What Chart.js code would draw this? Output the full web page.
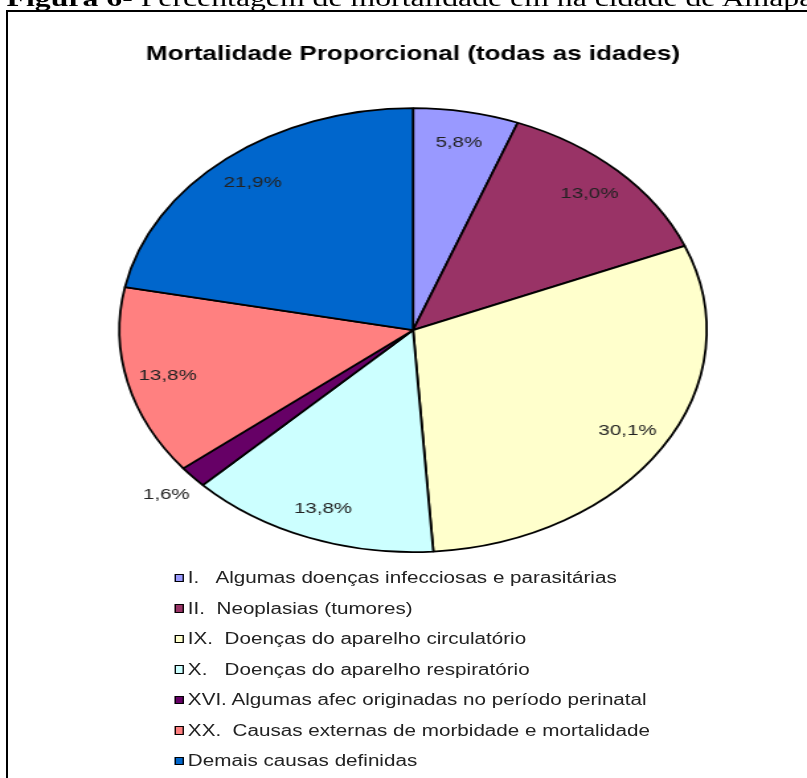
<!DOCTYPE html>
<html>
<head>
<meta charset="utf-8">
<title>Mortalidade Proporcional</title>
<script src="https://cdn.jsdelivr.net/npm/chart.js@4.4.0/dist/chart.umd.min.js"></script>
<style>
  html, body { margin: 0; padding: 0; background: #fff; width: 807px; height: 778px; overflow: hidden; }
  #frame { position: absolute; left: 6px; top: 10px; width: 900px; height: 900px;
           border-left: 2px solid #000; border-top: 2px solid #000; }
  /* the source picture is stretched horizontally, so the whole chart is too */
  #stretch { position: absolute; left: 0; top: 0; width: 610px; height: 778px;
             transform: scaleX(1.323); transform-origin: 0 0; }
  #caption { position: absolute; left: 5px; top: -14px; font-family: "Liberation Serif", serif;
             font-size: 24px; line-height: 24px; white-space: pre; color: #000; }
  #pie { position: absolute; left: 0; top: 0; }
  .lg-row { position: absolute; left: 131.5px; height: 18px; display: flex; align-items: center;
            font-family: "Liberation Sans", Arial, sans-serif; font-size: 15.6px; color: #222; white-space: pre; }
  .lg-box { box-sizing: border-box; width: 7.5px; height: 8.5px; border: 1.6px solid #000; margin-right: 3px; }
</style>
</head>
<body>
<div id="frame"></div>
<div id="stretch">
  <div id="caption"><b>Figura 6-</b> Percentagem de mortalidade em na cidade de Amapá</div>
  <canvas id="pie" width="610" height="778"></canvas>
  <div id="legend"></div>
</div>
<script>
// data
const chartTitle = 'Mortalidade Proporcional (todas as idades)';
const categories = [
  'I.   Algumas doenças infecciosas e parasitárias',
  'II.  Neoplasias (tumores)',
  'IX.  Doenças do aparelho circulatório',
  'X.   Doenças do aparelho respiratório',
  'XVI. Algumas afec originadas no período perinatal',
  'XX.  Causas externas de morbidade e mortalidade',
  'Demais causas definidas'
];
const shares = [5.8, 13.0, 30.1, 13.8, 1.6, 13.8, 21.9];
const sliceColors = ['#9999FF', '#993366', '#FFFFCC', '#CCFFFF', '#660066', '#FF8080', '#0066CC'];

const fmt = v => v.toFixed(1).replace('.', ',') + '%';

// percentage labels, inside the slice, outside for tiny slices
const valueLabels = {
  id: 'valueLabels',
  afterDatasetsDraw(chart) {
    const ctx = chart.ctx;
    const meta = chart.getDatasetMeta(0);
    ctx.save();
    ctx.font = '15.5px "Liberation Sans", Arial, sans-serif';
    ctx.fillStyle = '#222';
    ctx.textAlign = 'center';
    ctx.textBaseline = 'middle';
    meta.data.forEach((arc, i) => {
      const p = arc.getProps(['x', 'y', 'startAngle', 'endAngle', 'outerRadius'], true);
      const mid = (p.startAngle + p.endAngle) / 2;
      const f = shares[i] < 3 ? 1.12 : 0.86;
      ctx.fillText(fmt(shares[i]),
        p.x + Math.cos(mid) * p.outerRadius * f,
        p.y + Math.sin(mid) * p.outerRadius * f);
    });
    ctx.restore();
  }
};

new Chart(document.getElementById('pie'), {
  type: 'pie',
  data: {
    labels: categories,
    datasets: [{
      data: shares,
      backgroundColor: sliceColors,
      borderColor: '#000',
      borderWidth: 1.8,
      hoverOffset: 0
    }]
  },
  options: {
    responsive: false,
    devicePixelRatio: 1,
    animation: false,
    layout: { padding: { left: 14.4, right: 0, top: 0, bottom: 225 } },
    plugins: {
      legend: { display: false },
      tooltip: { enabled: false },
      title: {
        display: true,
        text: chartTitle,
        color: '#000',
        font: { family: '"Liberation Sans", Arial, sans-serif', size: 19.7, weight: 'bold' },
        padding: { top: 43, bottom: 40.6 }
      }
    }
  },
  plugins: [valueLabels]
});

// legend (one entry per line, left aligned)
const legendWrap = document.getElementById('legend');
const legendTop = 578, legendStep = 30.5;
categories.forEach((lab, i) => {
  const row = document.createElement('div');
  row.className = 'lg-row';
  row.style.top = (legendTop + i * legendStep - 9) + 'px';
  row.innerHTML = `<span class="lg-box" style="background:${sliceColors[i]}"></span><span></span>`;
  row.lastChild.textContent = lab;
  legendWrap.appendChild(row);
});
</script>
</body>
</html>
